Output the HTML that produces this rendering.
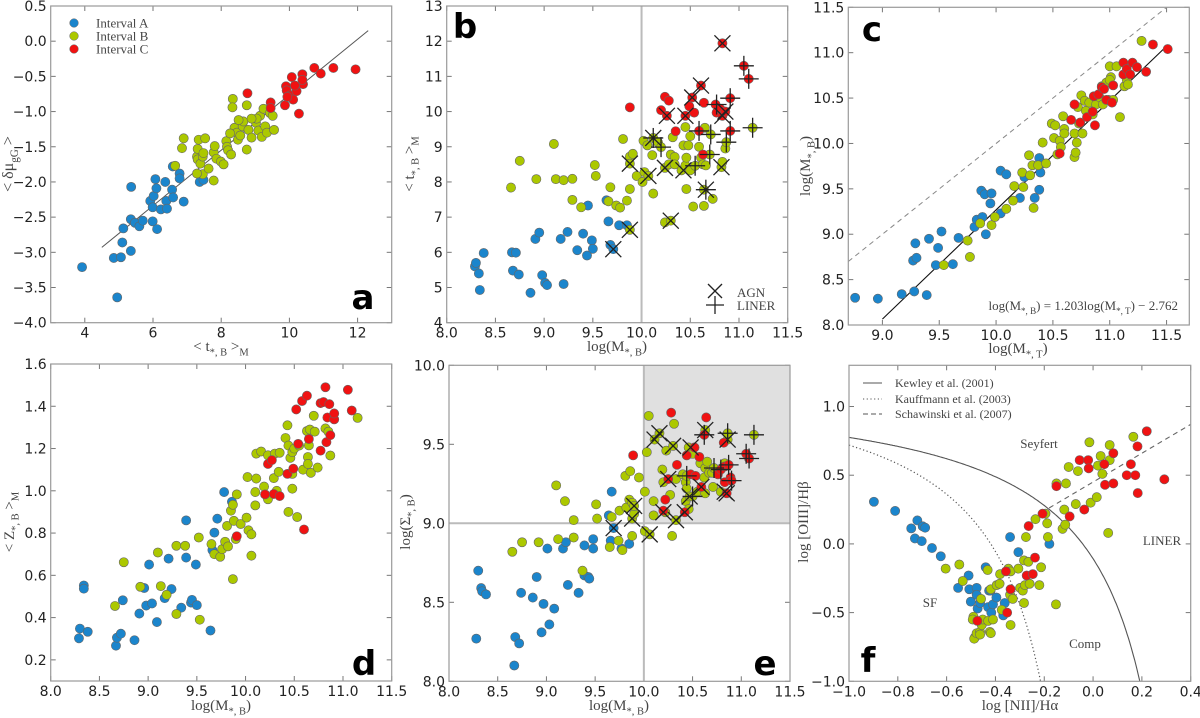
<!DOCTYPE html>
<html><head><meta charset="utf-8">
<style>
html,body{margin:0;padding:0;background:#fff;}
svg{display:block;}
text{font-family:"DejaVu Sans","Liberation Sans",sans-serif;}
.serif{font-family:"Liberation Serif","DejaVu Serif",serif;}
</style></head>
<body>
<svg id="fig" width="1200" height="718" viewBox="0 0 1200 718" xmlns="http://www.w3.org/2000/svg"></svg>
<script>
// ---------- DATA ----------
const aBlueX=[3.92,4.95,4.85,5.06,5.1,5.35,5.13,5.35,5.47,5.6,5.7,5.36,5.92,5.99,5.99,6.02,6.07,6.1,6.12,6.23,6.36,6.39,6.41,6.56,6.59,6.58,6.78,6.78,6.9,7.37,7.48];
const aBlueY=[-3.21,-3.64,-3.08,-3.07,-2.86,-2.98,-2.66,-2.53,-2.58,-2.63,-2.55,-2.07,-2.27,-2.36,-2.56,-2.2,-1.96,-2.09,-2.67,-2.39,-2.0,-2.27,-2.38,-2.11,-2.22,-1.78,-1.88,-1.95,-2.28,-2.0,-1.97];
const aGreenX=[6.65,6.85,6.9,7.29,7.31,7.31,7.34,7.39,7.46,7.48,7.53,7.46,7.29,7.63,7.78,7.78,7.81,7.86,7.99,8.07,8.15,8.17,8.2,8.29,8.34,8.33,8.39,8.46,8.49,8.56,8.63,8.65,8.75,8.75,8.8,8.89,9.02,9.09,9.14,9.19,9.24,9.29,9.34,9.43,9.51,9.55,9.04,8.89,8.26,8.51];
const aGreenY=[-1.77,-1.52,-1.38,-1.64,-1.53,-1.68,-1.4,-1.74,-1.64,-1.59,-1.38,-1.89,-1.88,-1.81,-1.98,-1.58,-1.49,-1.67,-1.71,-1.75,-1.42,-1.5,-1.55,-1.61,-0.82,-0.94,-1.23,-1.3,-1.4,-1.34,-1.21,-1.14,-0.91,-1.54,-1.26,-1.37,-1.16,-1.27,-1.06,-1.36,-0.96,-1.21,-1.3,-1.02,-1.06,-1.26,-1.1,-1.1,-1.31,-1.12];
const aRedX=[8.77,9.45,9.45,9.87,9.9,9.92,10.02,10.07,10.11,10.21,10.28,10.38,10.4,10.38,10.73,10.92,11.29,11.94,9.94,10.16];
const aRedY=[-0.74,-0.87,-0.95,-0.91,-0.64,-0.7,-0.77,-0.51,-0.83,-0.71,-1.03,-0.47,-0.61,-0.55,-0.38,-0.46,-0.38,-0.4,-0.79,-0.63];
const aFitX=[4.5,12.31];
const aFitY=[-2.93,0.15];

const bBlueX=[8.29,8.3,8.33,8.34,8.38,8.67,8.71,8.68,8.74,8.86,8.91,8.95,8.98,9.01,9.03,9.17,9.2,9.24,9.34,9.4,9.44,9.45,9.49,9.5,9.64,9.66,9.68,9.71,9.77,9.85];
const bBlueY=[5.6,5.7,5.4,4.93,5.98,6.0,5.99,5.48,5.37,4.85,6.38,6.56,5.35,5.13,5.07,6.38,5.1,6.58,6.06,6.53,5.91,7.33,6.34,6.1,7.48,6.88,6.21,6.09,6.77,6.77];
const bGreenX=[8.66,8.75,8.92,9.1,9.12,9.2,9.29,9.29,9.38,9.52,9.53,9.66,9.68,9.74,9.78,9.81,9.85,9.88,9.88,9.88,9.91,9.88,9.95,10.01,10.02,10.03,10.06,10.07,10.11,10.12,10.12,10.17,10.2,10.24,10.24,10.28,10.3,10.3,10.32,10.34,10.34,10.41,10.43,10.45,10.45,10.46,10.46,10.48,10.5,10.5,10.53,10.55,10.59,10.61,10.64,10.63,10.64,10.65,10.66,10.7,10.71,10.73,10.82,10.83,10.86,10.87,11.14];
const bGreenY=[7.84,8.6,8.08,9.08,8.08,8.05,8.09,7.49,7.28,8.48,8.17,7.45,7.85,7.33,7.27,9.22,7.47,7.8,6.64,8.72,8.8,8.52,8.17,8.0,9.17,8.28,9.04,8.17,8.76,7.67,9.25,9.12,8.99,6.85,8.4,8.5,8.78,6.9,9.27,8.71,8.5,8.33,9.04,8.47,9.56,7.8,8.69,9.04,9.3,8.33,7.3,8.46,9.0,8.69,7.32,8.5,7.78,9.54,8.47,8.78,9.35,7.52,8.42,8.57,8.95,9.13,9.54];
const bRedX=[9.88,10.2,10.24,10.28,10.26,10.35,10.45,10.49,10.52,10.54,10.59,10.61,10.63,10.64,10.76,10.77,10.81,10.83,10.83,10.86,10.91,10.91,11.05,11.1];
const bRedY=[10.12,10.04,10.42,10.31,9.88,9.44,9.88,10.15,10.4,9.97,9.45,10.74,8.78,10.25,10.2,9.97,10.07,11.94,9.88,10.0,10.38,9.45,11.3,10.93];
const bAgnX=[9.71,9.88,9.88,10.07,10.12,10.24,10.3,10.26,10.45,10.61,10.83,10.86,10.83,10.66,10.82,10.43,10.52];
const bAgnY=[6.09,6.64,8.52,8.17,9.25,8.4,6.9,9.88,9.88,10.74,11.94,10.0,9.88,7.78,8.42,8.33,10.4];
const bLinerX=[10.91,11.05,11.1,10.91,11.14,10.87,10.71,10.7,10.59,10.55,10.66,10.2,10.12,10.77];
const bLinerY=[10.38,11.3,10.93,9.45,9.54,9.13,9.35,8.78,9.45,8.46,7.78,8.99,9.25,10.2];

const cBlueX=[8.76,8.96,9.17,9.28,9.39,9.27,9.3,9.29,9.41,9.47,9.49,9.52,9.62,9.67,9.81,9.83,9.87,9.88,9.9,9.91,9.95,9.96,10.04,10.04,10.09,10.21,10.25,10.34,10.38,10.38,10.39,10.41];
const cBlueY=[8.3,8.29,8.34,8.37,8.33,8.71,8.74,8.9,8.95,8.66,8.85,9.03,8.67,8.96,9.08,9.16,9.48,9.19,9.44,9.0,9.34,9.45,9.7,9.23,9.66,9.4,9.63,9.4,9.84,9.49,9.68,9.78];
const cGreenX=[9.54,9.75,9.77,9.86,9.96,9.99,10.09,10.15,10.16,10.23,10.24,10.29,10.3,10.33,10.32,10.37,10.41,10.44,10.49,10.51,10.52,10.54,10.56,10.57,10.59,10.6,10.6,10.69,10.69,10.7,10.71,10.72,10.73,10.75,10.76,10.78,10.79,10.82,10.85,10.88,10.91,10.93,10.94,10.97,10.99,11.0,11.01,11.03,11.06,11.09,11.13,11.15,11.16,11.28,11.0];
const cGreenY=[8.66,8.93,8.75,9.12,9.1,9.19,9.28,9.37,9.53,9.68,9.52,9.87,9.65,9.29,9.76,9.76,10.01,9.78,10.22,10.06,10.2,9.88,10.03,9.96,10.3,10.16,10.11,10.11,9.85,9.9,10.01,10.4,10.22,10.53,10.11,10.47,10.36,10.45,10.32,10.43,10.51,10.63,10.43,10.67,10.48,10.85,10.73,10.48,10.85,10.29,10.63,10.7,10.65,11.13,10.7];
const cRedX=[10.56,10.66,10.69,10.74,10.8,10.85,10.86,10.87,10.9,10.93,10.95,10.97,11.02,11.03,11.12,11.12,11.15,11.18,11.2,11.24,11.32,11.38,11.51];
const cRedY=[9.89,10.26,10.43,10.23,10.29,10.35,10.52,10.2,10.54,10.62,10.6,10.48,10.45,10.64,10.89,10.76,10.82,10.76,10.89,10.84,10.79,11.09,11.04];
const cFitSlope=1.203, cFitIntercept=-2.762, cFitRange=[9.0,11.5];
const cOneToOne=[8.7,11.5];

const dBlueX=[8.29,8.3,8.34,8.34,8.38,8.67,8.68,8.72,8.74,8.86,8.91,8.96,8.98,9.01,9.04,9.09,9.17,9.21,9.24,9.34,9.39,9.39,9.44,9.45,9.49,9.5,9.64,9.66,9.68,9.71,9.78,9.86];
const dBlueY=[0.302,0.348,0.552,0.537,0.333,0.267,0.305,0.324,0.482,0.293,0.419,0.54,0.457,0.651,0.467,0.379,0.492,0.679,0.535,0.447,0.86,0.684,0.471,0.484,0.651,0.459,0.339,0.719,0.802,0.868,0.994,0.948];
const dGreenX=[8.66,8.75,8.92,9.1,9.13,9.19,9.29,9.29,9.38,9.52,9.53,9.65,9.68,9.74,9.76,9.79,9.81,9.82,9.85,9.87,9.87,9.88,9.9,9.91,9.95,10.01,10.02,10.03,10.06,10.06,10.1,10.1,10.11,10.11,10.16,10.19,10.23,10.23,10.29,10.3,10.32,10.34,10.35,10.41,10.43,10.44,10.44,10.46,10.48,10.48,10.48,10.5,10.53,10.55,10.59,10.63,10.64,10.64,10.65,10.66,10.67,10.7,10.71,10.74,10.82,10.85,10.87,11.15];
const dGreenY=[0.455,0.662,0.546,0.708,0.549,0.508,0.417,0.74,0.74,0.779,0.39,0.748,0.7,0.688,0.724,0.759,0.834,0.737,0.906,0.582,0.934,0.858,0.772,0.983,0.843,0.873,1.065,0.813,0.794,0.693,0.994,0.931,1.176,1.058,1.186,1.02,0.96,1.168,1.06,1.176,1.0,1.09,1.18,1.25,1.31,0.9,1.214,1.156,1.183,1.08,1.01,1.2,0.876,1.214,1.1,1.283,1.16,1.127,1.215,1.29,1.085,1.355,1.28,1.11,1.295,1.28,1.167,1.345];
const dRedX=[9.91,10.2,10.23,10.27,10.29,10.35,10.43,10.49,10.52,10.54,10.58,10.63,10.6,10.65,10.77,10.77,10.8,10.82,10.83,10.84,10.86,10.87,10.91,10.91,11.05,11.09];
const dRedY=[0.785,0.983,1.127,1.145,0.985,0.975,1.08,1.105,1.385,1.222,1.425,1.45,0.817,1.245,1.19,1.415,1.42,1.49,1.23,1.347,1.41,1.263,1.338,1.366,1.478,1.38];

const eBlueX=[8.28,8.3,8.33,8.34,8.38,8.67,8.68,8.72,8.74,8.86,8.9,8.95,8.97,9.01,9.03,9.08,9.17,9.2,9.22,9.33,9.39,9.39,9.43,9.44,9.48,9.48,9.64,9.66,9.67,9.69,9.77,9.85];
const eBlueY=[8.27,8.7,8.59,8.57,8.55,8.1,8.28,8.24,8.56,8.53,8.66,8.31,8.49,8.84,8.36,8.46,8.84,8.88,8.61,8.56,8.86,8.67,8.66,8.65,8.84,8.9,9.05,8.89,9.2,8.97,8.84,8.87];
const eGreenX=[8.65,8.75,8.92,9.1,9.12,9.19,9.28,9.28,9.37,9.51,9.52,9.65,9.67,9.75,9.74,9.78,9.81,9.82,9.85,9.86,9.88,9.88,9.88,9.9,9.9,9.95,10.01,10.01,10.03,10.05,10.06,10.1,10.1,10.11,10.16,10.19,10.2,10.22,10.23,10.27,10.3,10.31,10.33,10.33,10.29,10.4,10.43,10.43,10.44,10.44,10.46,10.46,10.47,10.5,10.5,10.55,10.58,10.62,10.63,10.63,10.63,10.65,10.67,10.7,10.71,10.72,10.79,10.83,10.86,10.86,11.13];
const eGreenY=[8.82,8.88,8.88,9.24,8.9,9.14,9.02,8.91,8.7,9.12,9.03,8.85,9.04,9.08,8.89,8.83,9.3,9.1,9.15,9.33,9.13,9.03,8.92,9.06,9.11,9.29,9.2,8.95,9.45,9.68,8.93,9.05,9.14,9.53,9.57,9.34,9.26,9.07,9.46,9.18,9.49,9.63,9.28,9.02,8.92,9.31,9.26,9.14,9.3,9.22,9.48,9.09,9.17,9.44,9.17,9.2,9.38,9.29,9.19,9.59,9.35,9.39,9.32,9.32,9.23,9.35,9.2,9.38,9.53,9.57,9.56];
const eRedX=[9.89,10.2,10.22,10.25,10.28,10.34,10.42,10.44,10.48,10.52,10.53,10.57,10.59,10.62,10.64,10.76,10.79,10.82,10.83,10.83,10.85,10.87,10.89,10.9,11.05,11.08];
const eRedY=[9.43,9.08,9.15,9.28,9.7,9.37,9.07,9.43,9.31,9.48,9.3,9.42,9.23,9.56,9.67,9.31,9.34,9.51,9.36,9.26,9.19,9.37,9.29,9.27,9.44,9.41];
const eAgnX=[9.69,9.88,9.9,10.06,10.11,10.16,10.3,10.25,10.2,10.33,10.42,10.63,10.86,10.83,10.85,10.48,10.47,10.59];
const eAgnY=[8.97,9.03,9.11,8.93,9.53,9.57,9.49,9.28,9.07,9.02,9.07,9.59,9.53,9.2,9.19,9.48,9.17,9.23];
const eLinerX=[11.13,11.05,11.08,10.86,10.9,10.87,10.62,10.44,10.72,10.5,10.79];
const eLinerY=[9.56,9.44,9.41,9.57,9.27,9.37,9.56,9.3,9.35,9.17,9.34];

const fBlueX=[-0.898,-0.811,-0.745,-0.72,-0.73,-0.698,-0.688,-0.702,-0.66,-0.624,-0.553,-0.51,-0.507,-0.501,-0.477,-0.477,-0.473,-0.463,-0.469,-0.484,-0.44,-0.426,-0.42,-0.43,-0.417,-0.41,-0.396,-0.368,-0.362,-0.34,-0.306,-0.179];
const fBlueY=[0.307,0.24,0.113,0.171,0.04,0.128,0.118,0.02,-0.03,-0.09,-0.32,-0.23,-0.33,-0.42,-0.32,-0.37,-0.47,-0.43,-0.65,-0.68,-0.17,-0.34,-0.34,-0.46,-0.5,-0.44,-0.39,-0.52,-0.43,0.05,-0.06,0.0];
const fGreenX=[-0.604,-0.548,-0.534,-0.49,-0.487,-0.493,-0.477,-0.463,-0.459,-0.456,-0.452,-0.463,-0.432,-0.43,-0.423,-0.419,-0.419,-0.41,-0.395,-0.383,-0.381,-0.374,-0.347,-0.34,-0.338,-0.338,-0.329,-0.306,-0.299,-0.288,-0.283,-0.283,-0.279,-0.275,-0.265,-0.26,-0.236,-0.213,-0.195,-0.22,-0.188,-0.185,-0.152,-0.15,-0.125,-0.118,-0.114,-0.111,-0.1,-0.071,-0.062,-0.015,-0.01,0.015,0.02,0.031,0.038,0.062,0.068,0.068,0.165];
const fGreenY=[-0.18,-0.15,-0.27,-0.53,-0.69,-0.55,-0.65,-0.64,-0.4,-0.59,-0.55,-0.66,-0.19,-0.56,-0.64,-0.33,-0.65,-0.55,-0.3,-0.29,-0.22,-0.48,-0.18,-0.37,-0.2,-0.59,-0.4,-0.18,-0.32,-0.34,-0.12,-0.43,-0.3,0.05,-0.13,-0.29,0.18,-0.17,0.22,-0.3,0.15,0.05,-0.44,0.44,0.11,0.25,0.14,0.44,0.56,0.29,0.53,0.74,0.3,0.34,0.57,0.64,0.51,0.08,0.72,0.61,0.78];
const fRedX=[-0.474,-0.357,-0.338,-0.352,-0.272,-0.264,-0.247,-0.238,-0.207,-0.15,-0.096,-0.055,-0.036,-0.02,-0.018,0.046,0.049,0.083,0.083,0.138,0.155,0.173,0.182,0.183,0.22,0.292];
const fRedY=[-0.56,-0.2,-0.33,-0.5,-0.23,0.13,-0.22,-0.1,0.22,0.42,0.2,0.61,0.25,0.61,0.55,0.58,0.43,0.66,0.44,0.5,0.58,0.5,0.71,0.37,0.82,0.47];

const aXTicks=[4,6,8,10,12], aYTicks=[-4.0,-3.5,-3.0,-2.5,-2.0,-1.5,-1.0,-0.5,0.0,0.5];
const bXTicks=[8.0,8.5,9.0,9.5,10.0,10.5,11.0,11.5], bYTicks=[4,5,6,7,8,9,10,11,12,13];
const cXTicks=[9.0,9.5,10.0,10.5,11.0,11.5], cYTicks=[8.0,8.5,9.0,9.5,10.0,10.5,11.0,11.5];
const dXTicks=[8.0,8.5,9.0,9.5,10.0,10.5,11.0,11.5], dYTicks=[0.2,0.4,0.6,0.8,1.0,1.2,1.4,1.6];
const eXTicks=[8.0,8.5,9.0,9.5,10.0,10.5,11.0,11.5], eYTicks=[8.0,8.5,9.0,9.5,10.0];
const fXTicks=[-1.0,-0.8,-0.6,-0.4,-0.2,0.0,0.2,0.4], fYTicks=[-1.0,-0.5,0.0,0.5,1.0];

// ---------- DRAWING ----------
const NS='http://www.w3.org/2000/svg';
const svg=document.getElementById('fig');
const BLUE='#1b85cc', GREEN='#acc800', RED='#f01212';
function mk(tag,attrs,parent){const e=document.createElementNS(NS,tag);for(const k in attrs)e.setAttribute(k,attrs[k]);(parent||svg).appendChild(e);return e;}
function fmt(v,dec){const s=v.toFixed(dec);return s.replace('-','\u2212');}

function panel(name,L,R,T,B,x0,x1,y0,y1){
  const g=mk('g',{});
  
  
  const sx=v=>L+(v-x0)/(x1-x0)*(R-L);
  const sy=v=>B-(v-y0)/(y1-y0)*(B-T);
  return {g,sx,sy,L,R,T,B};
}
function frame(p){
  const r=mk('rect',{x:p.L,y:p.T,width:p.R-p.L,height:p.B-p.T,fill:'none',stroke:'#9a9a9a','stroke-width':1.2},p.g);
  
  
}
function ticks(p,xt,yt,xdec,ydec){
  xt.forEach(v=>{
    const x=p.sx(v);
    mk('line',{x1:x,x2:x,y1:p.B,y2:p.B-5,stroke:'#777'},p.g);
    mk('line',{x1:x,x2:x,y1:p.T,y2:p.T+5,stroke:'#777'},p.g);
    const t=mk('text',{x:x,y:p.B+15,'text-anchor':'middle','font-size':14,fill:'#222'},p.g);
    t.textContent=fmt(v,xdec);
    
    
  });
  yt.forEach(v=>{
    const y=p.sy(v);
    mk('line',{x1:p.L,x2:p.L+5,y1:y,y2:y,stroke:'#777'},p.g);
    mk('line',{x1:p.R,x2:p.R-5,y1:y,y2:y,stroke:'#777'},p.g);
    const t=mk('text',{x:p.L-4,y:y+5,'text-anchor':'end','font-size':14,fill:'#222'},p.g);
    t.textContent=fmt(v,ydec);
    
    
  });
}
function scatter(p,xs,ys,color,label){
  xs.forEach((x,i)=>{
    const c=mk('circle',{cx:p.sx(x),cy:p.sy(ys[i]),r:4.6,fill:color,stroke:'#666','stroke-width':0.6},p.g);
    
    
  });
}
function crosses(p,xs,ys,kind){
  xs.forEach((x,i)=>{
    const cx=p.sx(x),cy=p.sy(ys[i]),s=kind==='agn'?8:10;
    const gg=mk('g',{stroke:'#222','stroke-width':1.3},p.g);
    
    
    if(kind==='agn'){mk('line',{x1:cx-s,y1:cy-s,x2:cx+s,y2:cy+s},gg);mk('line',{x1:cx-s,y1:cy+s,x2:cx+s,y2:cy-s},gg);}
    else{mk('line',{x1:cx-s,y1:cy,x2:cx+s,y2:cy},gg);mk('line',{x1:cx,y1:cy-s,x2:cx,y2:cy+s},gg);}
  });
}
function rich(parent,x,y,parts,size,anchor,rot,name){
  const attrs={x:x,y:y,'font-size':size,fill:'#444','text-anchor':anchor||'middle',class:'serif'};
  if(rot)attrs.transform='rotate(-90 '+x+' '+y+')';
  const t=mk('text',attrs,parent);
  
  
  let sub=false;
  parts.forEach(([s,isSub])=>{
    const ts=mk('tspan',{},t);
    if(isSub&&!sub){ts.setAttribute('dy',size*0.3);ts.setAttribute('font-size',size*0.7);}
    else if(isSub){ts.setAttribute('font-size',size*0.7);}
    else if(!isSub&&sub){ts.setAttribute('dy',-size*0.3);}
    sub=isSub;
    ts.textContent=s;
  });
  return t;
}
function bigLetter(p,x,y,s){
  const t=mk('text',{x:x,y:y,'font-size':34,'font-weight':'bold',fill:'#000','text-anchor':'middle','font-family':'"Liberation Sans",sans-serif'},p.g);
  t.textContent=s;
  
  
}
function polyline(p,pts,attrs,name){
  const d=pts.map((q,i)=>(i?'L':'M')+p.sx(q[0]).toFixed(1)+' '+p.sy(q[1]).toFixed(1)).join(' ');
  const e=mk('path',Object.assign({d:d,fill:'none'},attrs),p.g);
  
  
}

(function(){
  const p=panel('panel-a',50.7,391.7,6,322.7,3,13,-4,0.5);
  ticks(p,aXTicks,aYTicks,0,1);
  polyline(p,[[aFitX[0],aFitY[0]],[aFitX[1],aFitY[1]]],{stroke:'#555','stroke-width':1},'fit-line');
  scatter(p,aBlueX,aBlueY,BLUE,'point-interval-a');
  scatter(p,aGreenX,aGreenY,GREEN,'point-interval-b');
  scatter(p,aRedX,aRedY,RED,'point-interval-c');
  frame(p);
  const lg=mk('g',{},p.g);
  
  
  [['Interval A',BLUE,23],['Interval B',GREEN,36],['Interval C',RED,49]].forEach(([s,c,y])=>{
    const e=mk('circle',{cx:74,cy:y,r:4.3,fill:c,stroke:'#666','stroke-width':0.5},lg);
    
    
    const t=mk('text',{x:96,y:y+4.5,'font-size':13,fill:'#444',class:'serif'},lg);
    t.textContent=s;
    
    
  });
  bigLetter(p,363,309,'a');
  rich(p.g,221,351,[['< t',false],['*, B',true],[' >',false],['M',true]],15,'middle',false,'x-axis-title');
  rich(p.g,13,164,[['< δμ',false],['gG',true],[' >',false]],16,'middle',true,'y-axis-title');
})();

(function(){
  const p=panel('panel-b',446.7,787.7,6,322.7,8,11.5,4,13);
  ticks(p,bXTicks,bYTicks,1,0);
  mk('line',{x1:p.sx(10),x2:p.sx(10),y1:p.T,y2:p.B,stroke:'#bbb','stroke-width':2},p.g);
  scatter(p,bBlueX,bBlueY,BLUE,'point-interval-a');
  scatter(p,bGreenX,bGreenY,GREEN,'point-interval-b');
  scatter(p,bRedX,bRedY,RED,'point-interval-c');
  crosses(p,bAgnX,bAgnY,'agn');
  crosses(p,bLinerX,bLinerY,'liner');
  frame(p);
  const lg=mk('g',{},p.g);
  
  
  const g1=mk('g',{stroke:'#222','stroke-width':1.3},lg);
  mk('line',{x1:708,y1:284,x2:722,y2:298},g1);mk('line',{x1:708,y1:298,x2:722,y2:284},g1);
  const g2=mk('g',{stroke:'#222','stroke-width':1.3},lg);
  mk('line',{x1:706,y1:305,x2:724,y2:305},g2);mk('line',{x1:715,y1:296,x2:715,y2:314},g2);
  const t1=mk('text',{x:737,y:297,'font-size':13,fill:'#444',class:'serif'},lg);t1.textContent='AGN';
  
  
  const t2=mk('text',{x:737,y:310,'font-size':13,fill:'#444',class:'serif'},lg);t2.textContent='LINER';
  
  
  bigLetter(p,465,38,'b');
  rich(p.g,617,351,[['log(M',false],['*, B',true],[')',false]],15,'middle',false,'x-axis-title');
  rich(p.g,414,164,[['< t',false],['*, B',true],[' >',false],['M',true]],15,'middle',true,'y-axis-title');
})();

(function(){
  const p=panel('panel-c',848.3,1189.3,7.3,325,8.7,11.7,8,11.5);
  ticks(p,cXTicks,cYTicks,1,1);
  polyline(p,[[cOneToOne[0],cOneToOne[0]],[cOneToOne[1],cOneToOne[1]]],{stroke:'#888','stroke-width':1,'stroke-dasharray':'5,4'},'one-to-one-line');
  polyline(p,cFitRange.map(x=>[x,cFitSlope*x+cFitIntercept]),{stroke:'#111','stroke-width':1.1},'fit-line');
  scatter(p,cBlueX,cBlueY,BLUE,'point-interval-a');
  scatter(p,cGreenX,cGreenY,GREEN,'point-interval-b');
  scatter(p,cRedX,cRedY,RED,'point-interval-c');
  frame(p);
  bigLetter(p,872,41,'c');
  rich(p.g,1178,310,[['log(M',false],['*, B',true],[') = 1.203log(M',false],['*, T',true],[') − 2.762',false]],13,'end',false,'fit-equation');
  rich(p.g,1018,353,[['log(M',false],['*, T',true],[')',false]],15,'middle',false,'x-axis-title');
  rich(p.g,810,166,[['log(M',false],['*, B',true],[')',false]],15,'middle',true,'y-axis-title');
})();

(function(){
  const p=panel('panel-d',50.7,391.7,364,681,8,11.5,0.1,1.6);
  ticks(p,dXTicks,dYTicks,1,1);
  scatter(p,dBlueX,dBlueY,BLUE,'point-interval-a');
  scatter(p,dGreenX,dGreenY,GREEN,'point-interval-b');
  scatter(p,dRedX,dRedY,RED,'point-interval-c');
  frame(p);
  bigLetter(p,364,675,'d');
  rich(p.g,221,710,[['log(M',false],['*, B',true],[')',false]],15,'middle',false,'x-axis-title');
  rich(p.g,14,522,[['< Z',false],['*, B',true],[' >',false],['M',true]],15,'middle',true,'y-axis-title');
})();

(function(){
  const p=panel('panel-e',449,790,365.3,681.3,8,11.5,8,10);
  ticks(p,eXTicks,eYTicks,1,1);
  const sh=mk('rect',{x:p.sx(10),y:p.T,width:p.R-p.sx(10),height:p.sy(9)-p.T,fill:'#e0e0e0'},p.g);
  
  
  mk('line',{x1:p.sx(10),x2:p.sx(10),y1:p.T,y2:p.B,stroke:'#bbb','stroke-width':2},p.g);
  mk('line',{x1:p.L,x2:p.R,y1:p.sy(9),y2:p.sy(9),stroke:'#bbb','stroke-width':2},p.g);
  scatter(p,eBlueX,eBlueY,BLUE,'point-interval-a');
  scatter(p,eGreenX,eGreenY,GREEN,'point-interval-b');
  scatter(p,eRedX,eRedY,RED,'point-interval-c');
  crosses(p,eAgnX,eAgnY,'agn');
  crosses(p,eLinerX,eLinerY,'liner');
  frame(p);
  bigLetter(p,765,675,'e');
  rich(p.g,619,710,[['log(M',false],['*, B',true],[')',false]],15,'middle',false,'x-axis-title');
  rich(p.g,410,522,[['log(Σ',false],['*, B',true],[')',false]],15,'middle',true,'y-axis-title');
})();

(function(){
  const p=panel('panel-f',849,1190.7,365.3,681.3,-1,0.4,-1,1.3);
  ticks(p,fXTicks,fYTicks,1,1);
  const kew=[],kau=[],sch=[];
  for(let x=-1;x<=0.19;x+=0.005){const y=0.61/(x-0.47)+1.19;if(y>=-1)kew.push([x,y]);}
  kew.push([0.1915,-1]);
  for(let x=-1;x<=-0.21;x+=0.005){const y=0.61/(x-0.05)+1.3;if(y>=-1)kau.push([x,y]);}
  kau.push([-0.2153,-1]);
  sch.push([-0.18,1.05*-0.18+0.45]);sch.push([0.4,1.05*0.4+0.45]);
  polyline(p,kew,{stroke:'#555','stroke-width':1.1},'kewley-curve');
  polyline(p,kau,{stroke:'#555','stroke-width':1.2,'stroke-dasharray':'1.2,2.5'},'kauffmann-curve');
  polyline(p,sch,{stroke:'#666','stroke-width':1.1,'stroke-dasharray':'5,4'},'schawinski-line');
  scatter(p,fBlueX,fBlueY,BLUE,'point-interval-a');
  scatter(p,fGreenX,fGreenY,GREEN,'point-interval-b');
  scatter(p,fRedX,fRedY,RED,'point-interval-c');
  frame(p);
  const lg=mk('g',{},p.g);
  
  
  [['Kewley et al. (2001)',383,'none'],['Kauffmann et al. (2003)',399,'1.2,2.5'],['Schawinski et al. (2007)',414,'5,3']].forEach(([s,y,da])=>{
    const l=mk('line',{x1:863,x2:882,y1:y,y2:y,stroke:'#555','stroke-width':1,'stroke-dasharray':da},lg);
    
    
    const t=mk('text',{x:895,y:y+4,'font-size':12,fill:'#444',class:'serif'},lg);
    t.textContent=s;
    
    
  });
  [['Seyfert',1039,448],['LINER',1162,545],['SF',930,607],['Comp',1085,648]].forEach(([s,x,y])=>{
    const t=mk('text',{x:x,y:y,'font-size':13,fill:'#444','text-anchor':'middle',class:'serif'},p.g);
    t.textContent=s;
    
    
  });
  bigLetter(p,868,672,'f');
  rich(p.g,1020,710,[['log [NII]/Hα',false]],15,'middle',false,'x-axis-title');
  rich(p.g,808,522,[['log [OIII]/Hβ',false]],15,'middle',true,'y-axis-title');
})();
</script>
</body></html>
